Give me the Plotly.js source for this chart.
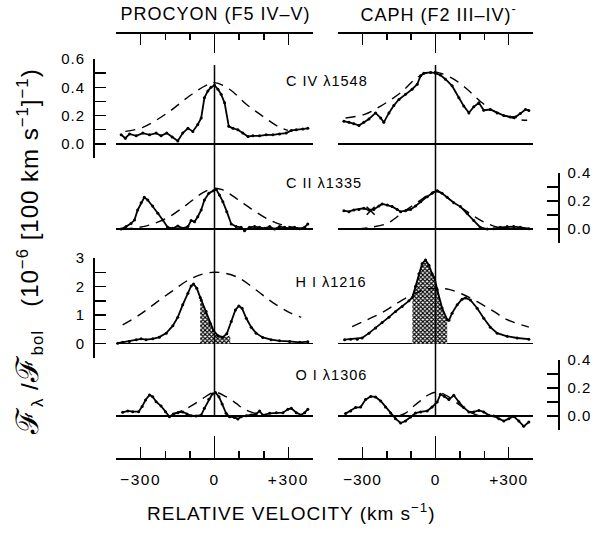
<!DOCTYPE html>
<html><head><meta charset="utf-8">
<script src="https://cdn.plot.ly/plotly-3.0.1.min.js"></script>
<style>
html,body{margin:0;padding:0;background:#fff;}
#chart{width:599px;height:533px;}
#chart svg text{letter-spacing:1px;}
#chart svg .xtick text{letter-spacing:1.6px;}
</style></head><body><div id="chart"></div>
<script>
// ---------- DATA (velocity in km/s, flux in chart units) ----------
const columns = ["PROCYON (F5 IV–V)", "CAPH (F2 III–IV)<sup>-</sup>"];
const lineLabels = ["C IV λ1548", "C II λ1335", "H I λ1216", "O I λ1306"];
const xTickVals = [-300, 0, 300];
const xTickText = ["−300", "0", "+300"];
const yTicksSmall = [0, 0.2, 0.4, 0.6];
const yTicksSmallText = ["0.0", "0.2", "0.4", "0.6"];
const yTicksHI = [0, 1, 2, 3];
const yTicksHIText = ["0", "1", "2", "3"];

// Procyon C IV
const P_CIV_v = [-379,-362,-345,-318,-291,-264,-237,-217,-194,-172,-149,-129,-108,-88,-68,-54,-41,-27,-14,0,14,27,41,58,75,95,115,136,156,183,210,237,264,291,312,332,359,379];
const P_CIV_f = [0.064,0.04,0.07,0.057,0.076,0.064,0.076,0.057,0.076,0.048,0.021,0.076,0.11,0.088,0.136,0.183,0.326,0.374,0.40,0.414,0.386,0.35,0.29,0.124,0.11,0.10,0.076,0.052,0.057,0.057,0.064,0.064,0.07,0.076,0.095,0.10,0.105,0.11];
const P_CIV_fit_v = [-362,-291,-190,-102,-34,0,61,129,196,257,298];
const P_CIV_fit_f = [0.088,0.117,0.22,0.338,0.414,0.433,0.386,0.28,0.195,0.124,0.095];
// Caph C IV
const C_CIV_v = [-376,-355,-335,-314,-294,-273,-246,-225,-212,-191,-171,-150,-123,-96,-75,-61,-48,-20,0,20,41,68,96,116,137,157,178,198,225,253,280,307,328,348,369,383];
const C_CIV_f = [0.16,0.152,0.143,0.129,0.152,0.176,0.219,0.183,0.152,0.219,0.271,0.314,0.35,0.386,0.421,0.481,0.50,0.505,0.50,0.486,0.457,0.41,0.326,0.267,0.219,0.262,0.29,0.238,0.243,0.219,0.20,0.19,0.19,0.214,0.243,0.236];
const C_CIV_fit_v = [-369,-294,-225,-143,-75,-20,20,75,130,184,239,294,342,376];
const C_CIV_fit_f = [0.183,0.207,0.267,0.362,0.469,0.51,0.50,0.457,0.386,0.30,0.231,0.195,0.171,0.167];

// Procyon C II
const P_CII_v = [-379,-359,-339,-325,-312,-298,-285,-271,-251,-230,-210,-190,-169,-149,-129,-108,-95,-81,-68,-54,-41,-23,-4,7,20,34,50,68,88,108,122,142,163,183,203,224,244,264,285,305,325,346,366,379];
const P_CII_f = [0.0,0.017,0.04,0.064,0.136,0.188,0.226,0.207,0.164,0.112,0.064,0.012,0.005,0.021,0.005,0.017,0.06,0.052,0.088,0.136,0.207,0.255,0.274,0.283,0.243,0.195,0.124,0.036,0.017,0.012,-0.012,0.012,0.017,0.012,0.005,0.017,0.0,0.017,0.012,0.005,0.012,0.002,0.012,0.036];
const P_CII_fit_v = [-373,-305,-251,-183,-115,-47,-4,34,88,156,224,291,359];
const P_CII_fit_f = [0,0.012,0.036,0.088,0.171,0.26,0.29,0.279,0.219,0.136,0.064,0.021,0.005];
// Caph C II
const C_CII_v = [-376,-355,-335,-314,-294,-273,-253,-232,-219,-198,-178,-157,-143,-123,-102,-82,-61,-34,-14,7,27,48,75,102,130,157,184,212,239,266,294,321,348,383];
const C_CII_f = [0.131,0.124,0.136,0.14,0.148,0.136,0.14,0.164,0.179,0.171,0.16,0.14,0.124,0.131,0.14,0.164,0.195,0.231,0.255,0.274,0.255,0.226,0.188,0.16,0.112,0.06,0.012,0.0,0.002,0.012,0.017,0.017,0.012,0.002];
const C_CII_fit_v = [-321,-266,-198,-130,-61,-7,20,75,130,184,239,294,348];
const C_CII_fit_f = [0,0.012,0.04,0.124,0.207,0.267,0.26,0.188,0.124,0.064,0.021,0.005,0];
const C_CII_mark_v = [-266];
const C_CII_mark_f = [0.13];

// Procyon H I
const P_HI_v = [-393,-373,-346,-318,-298,-278,-251,-224,-196,-169,-149,-129,-108,-95,-85,-72,-58,-54,-34,-18,-4,14,34,50,68,85,99,112,129,149,169,196,230,264,305,346,379];
const P_HI_f = [0.02,0.05,0.08,0.14,0.17,0.14,0.17,0.23,0.37,0.63,0.93,1.36,1.77,2.02,2.09,1.94,1.62,1.53,1.13,0.72,0.46,0.28,0.23,0.35,0.78,1.18,1.32,1.24,0.89,0.58,0.37,0.22,0.14,0.10,0.08,0.05,0.07];
const P_HI_shade_v = [-58,-54,-34,-18,-4,14,34,50,64];
const P_HI_shade_f = [1.62,1.53,1.13,0.72,0.46,0.28,0.23,0.26,0.28];
const P_HI_fit_v = [-373,-305,-237,-169,-102,-47,0,47,102,169,237,305,352];
const P_HI_fit_f = [0.66,1.01,1.44,1.86,2.25,2.44,2.50,2.46,2.29,1.88,1.44,1.09,0.93];
// Caph H I
const C_HI_v = [-373,-348,-321,-301,-273,-246,-219,-191,-164,-137,-109,-95,-82,-68,-55,-41,-27,-14,-4,7,27,48,55,68,89,109,123,143,171,198,225,253,294,335,383];
const C_HI_f = [0.14,0.16,0.16,0.20,0.37,0.55,0.74,0.93,1.13,1.30,1.50,1.62,2.0,2.45,2.8,2.93,2.75,2.45,2.3,1.9,1.25,0.84,0.82,1.07,1.36,1.56,1.60,1.53,1.24,0.89,0.58,0.37,0.26,0.20,0.16];
const C_HI_shade_v = [-95,-82,-68,-55,-41,-27,-14,-4,7,27,48];
const C_HI_shade_f = [1.62,2.0,2.45,2.8,2.93,2.75,2.45,2.3,1.9,1.25,0.84];
const C_HI_fit_v = [-342,-280,-219,-157,-96,-48,0,55,109,171,239,294,383];
const C_HI_fit_f = [0.60,0.84,1.09,1.42,1.71,1.88,1.94,1.90,1.74,1.47,1.13,0.84,0.58];

// Procyon O I
const P_OI_v = [-373,-352,-332,-308,-294,-280,-264,-251,-237,-217,-199,-183,-167,-149,-129,-112,-95,-75,-54,-41,-23,-9,4,18,31,47,61,81,95,108,129,149,169,183,196,224,251,278,298,312,332,352,366,379];
const P_OI_f = [0.026,0.036,0.031,0.031,0.067,0.114,0.15,0.138,0.102,0.071,0.031,-0.005,0.014,0.024,0.029,0.014,0.002,0,0.007,0.055,0.119,0.157,0.167,0.138,0.086,0.019,-0.005,-0.01,-0.021,-0.005,0.002,0.007,0.014,0.036,0.007,0.019,0.024,0.024,0.048,0.055,0.024,0.007,0.024,0.048];
const P_OI_fit_v = [-170,-130,-88,-47,0,47,88,115,156,200];
const P_OI_fit_f = [0.015,0.04,0.079,0.126,0.17,0.138,0.09,0.055,0.024,0.008];
// Caph O I
const C_OI_v = [-369,-348,-328,-307,-287,-266,-246,-225,-205,-184,-164,-143,-123,-102,-82,-61,-34,-14,7,20,37,55,75,96,116,137,157,178,198,219,239,260,280,301,321,342,362,383];
const C_OI_f = [0.017,0.036,0.06,0.064,0.117,0.14,0.136,0.107,0.064,0.021,-0.019,-0.05,-0.036,-0.007,0.021,0.029,0.036,0.064,0.1,0.155,0.14,0.117,0.148,0.1,0.06,0.029,0.029,0.04,0.029,0.005,0,-0.019,-0.036,-0.019,-0.002,-0.036,-0.074,-0.043];
const C_OI_fit_v = [-150,-123,-90,-61,-30,0,30,60,90,120,150,180];
const C_OI_fit_f = [0.0,0.02,0.07,0.11,0.15,0.17,0.16,0.13,0.09,0.05,0.02,0.0];

// ---------- LAYOUT HELPERS ----------
const W = 599, H = 533;
const fx = p => p / W, fy = p => 1 - p / H;
const FONT = "Liberation Sans, Arial, Helvetica, sans-serif";
const K = "black";
const LW = 1.5;
const xr = [-400, 400];
const minorVals = [-400, -200, -100, 100, 200, 400];
const domP = [fx(116), fx(313)], domC = [fx(338), fx(533)];

function bottomAxis(domain) {
  return {domain, range: xr, anchor: "free", position: fy(458), side: "bottom",
    showline: true, linecolor: K, linewidth: LW, ticks: "inside", ticklen: 11, tickwidth: LW, tickcolor: K,
    tickmode: "array", tickvals: xTickVals, ticktext: xTickText, ticklabelstandoff: 7,
    tickfont: {family: FONT, size: 15.5, color: K},
    minor: {tickmode: "array", tickvals: minorVals, ticks: "inside", ticklen: 7, tickwidth: LW, tickcolor: K, showgrid: false},
    showgrid: false, zeroline: false, fixedrange: true};
}
function topAxis(domain, over) {
  return {domain, overlaying: over, range: xr, anchor: "free", position: fy(32), side: "top",
    showline: true, linecolor: K, linewidth: LW, ticks: "inside", ticklen: 11, tickwidth: LW, tickcolor: K,
    tickmode: "array", tickvals: [-300, 300], showticklabels: false,
    minor: {tickmode: "array", tickvals: minorVals, ticks: "inside", ticklen: 6, tickwidth: LW, tickcolor: K, showgrid: false},
    showgrid: false, zeroline: false, fixedrange: true};
}
function zeroTickAxis(domain, over, side, pos, len) {
  return {domain, overlaying: over, range: xr, anchor: "free", position: pos, side,
    showline: false, ticks: "inside", ticklen: len, tickwidth: LW, tickcolor: K,
    tickmode: "array", tickvals: [0], showticklabels: false, showgrid: false, zeroline: false, fixedrange: true};
}
function rowAxis(domain, range, vals, texts, minorV, side) {
  return {domain, range, anchor: "free", position: side === "left" ? fx(93) : fx(558), side,
    showline: true, linecolor: K, linewidth: LW, ticks: "inside", ticklen: 11, tickwidth: LW, tickcolor: K,
    tickmode: "array", tickvals: vals, ticktext: texts, ticklabelstandoff: 5,
    tickfont: {family: FONT, size: 15, color: K},
    minor: {tickmode: "array", tickvals: minorV, ticks: "inside", ticklen: 11, tickwidth: LW, tickcolor: K, showgrid: false},
    showgrid: false, zeroline: true, zerolinecolor: K, zerolinewidth: LW, fixedrange: true};
}

// ---------- TRACES ----------
const traces = [];
function solid(v, f, xa, ya) {
  traces.push({x: v, y: f, xaxis: xa, yaxis: ya, mode: "lines+markers", type: "scatter",
    line: {color: K, width: 1.8}, marker: {color: K, size: 3}, showlegend: false, hoverinfo: "skip"});
}
function dashed(v, f, xa, ya) {
  traces.push({x: v, y: f, xaxis: xa, yaxis: ya, mode: "lines", type: "scatter",
    line: {color: K, width: 1.4, dash: "10px,7px", shape: "spline"}, showlegend: false, hoverinfo: "skip"});
}
function shade(v, f, xa, ya) {
  traces.push({x: v, y: f, xaxis: xa, yaxis: ya, mode: "lines", type: "scatter", fill: "tozeroy",
    line: {width: 0, color: "rgba(0,0,0,0)"}, fillcolor: "white",
    fillpattern: {shape: "x", fgcolor: K, bgcolor: "white", size: 3, solidity: 0.6},
    showlegend: false, hoverinfo: "skip"});
}
function mark(v, f, xa, ya, sym) {
  traces.push({x: v, y: f, xaxis: xa, yaxis: ya, mode: "markers", type: "scatter",
    marker: {symbol: sym, size: 8, color: K, line: {color: K, width: 1.5}}, showlegend: false, hoverinfo: "skip"});
}

dashed(P_CIV_fit_v, P_CIV_fit_f, "x", "y");  solid(P_CIV_v, P_CIV_f, "x", "y");
dashed(C_CIV_fit_v, C_CIV_fit_f, "x2", "y"); solid(C_CIV_v, C_CIV_f, "x2", "y");
dashed(P_CII_fit_v, P_CII_fit_f, "x", "y2"); solid(P_CII_v, P_CII_f, "x", "y2");
dashed(C_CII_fit_v, C_CII_fit_f, "x2", "y2"); solid(C_CII_v, C_CII_f, "x2", "y2");
mark(C_CII_mark_v, C_CII_mark_f, "x2", "y2", "x-thin-open");
shade(P_HI_shade_v, P_HI_shade_f, "x", "y3"); dashed(P_HI_fit_v, P_HI_fit_f, "x", "y3"); solid(P_HI_v, P_HI_f, "x", "y3");
shade(C_HI_shade_v, C_HI_shade_f, "x2", "y3"); dashed(C_HI_fit_v, C_HI_fit_f, "x2", "y3"); solid(C_HI_v, C_HI_f, "x2", "y3");
dashed(P_OI_fit_v, P_OI_fit_f, "x", "y4"); solid(P_OI_v, P_OI_f, "x", "y4");
dashed(C_OI_fit_v, C_OI_fit_f, "x2", "y4"); solid(C_OI_v, C_OI_f, "x2", "y4");
// empty traces so the overlay axes are drawn
["x3","x4","x5","x6","x7","x8"].forEach(a => traces.push({x: [], y: [], xaxis: a, yaxis: "y", type: "scatter", mode: "lines", showlegend: false}));

// ---------- LAYOUT ----------
const ann = [];
function txt(text, x, y, size, extra) {
  ann.push(Object.assign({text, x, y, xref: "paper", yref: "paper", showarrow: false,
    xanchor: "center", yanchor: "middle", font: {family: FONT, size, color: K}}, extra || {}));
}
txt(columns[0], fx(215), fy(14), 18);
txt(columns[1], fx(438), fy(14), 18);
txt(lineLabels[0], fx(327), fy(81), 14.5);
txt(lineLabels[1], fx(324), fy(183), 14.5);
txt(lineLabels[2], fx(331), fy(282), 14.5);
txt(lineLabels[3], fx(331), fy(375), 14.5);
txt("RELATIVE VELOCITY (km s<sup>−1</sup>)", fx(291), fy(512), 19);
txt("<span style='font-size:31px'>ℱ</span><sub>λ</sub> /<span style='font-size:31px'>ℱ</span><sub>bol</sub>   (10<sup>−6</sup> [100 km s<sup>−1</sup>]<sup>−1</sup>)",
    fx(28), fy(252), 24, {textangle: -90});

const layout = {
  width: W, height: H, margin: {l: 0, r: 0, t: 0, b: 0},
  paper_bgcolor: "white", plot_bgcolor: "rgba(0,0,0,0)", showlegend: false,
  font: {family: FONT, color: K},
  xaxis: bottomAxis(domP),
  xaxis2: bottomAxis(domC),
  xaxis3: topAxis(domP, "x"),
  xaxis4: topAxis(domC, "x2"),
  xaxis5: zeroTickAxis(domP, "x", "top", fy(32), 20),
  xaxis6: zeroTickAxis(domC, "x2", "top", fy(32), 20),
  xaxis7: zeroTickAxis(domP, "x", "bottom", fy(458), 22),
  xaxis8: zeroTickAxis(domC, "x2", "bottom", fy(458), 22),
  yaxis: rowAxis([fy(158), fy(59)], [-0.1, 0.6], yTicksSmall, yTicksSmallText, [-0.1, 0.1, 0.3, 0.5], "left"),
  yaxis2: rowAxis([fy(243), fy(173)], [-0.1, 0.4], yTicksSmall.slice(0, 3), yTicksSmallText.slice(0, 3), [-0.1, 0.1, 0.3], "right"),
  yaxis3: rowAxis([fy(358), fy(258)], [-0.5, 3], yTicksHI, yTicksHIText, [-0.5, 0.5, 1.5, 2.5], "left"),
  yaxis4: rowAxis([fy(430), fy(360)], [-0.1, 0.4], yTicksSmall.slice(0, 3), yTicksSmallText.slice(0, 3), [-0.1, 0.1, 0.3], "right"),
  shapes: [
    {type: "line", xref: "x", yref: "paper", x0: 0, x1: 0, y0: fy(415), y1: fy(65), line: {color: K, width: LW}},
    {type: "line", xref: "x2", yref: "paper", x0: 0, x1: 0, y0: fy(416), y1: fy(65), line: {color: K, width: LW}}
  ],
  annotations: ann
};

Plotly.newPlot("chart", traces, layout, {staticPlot: true, displayModeBar: false});
</script></body></html>
